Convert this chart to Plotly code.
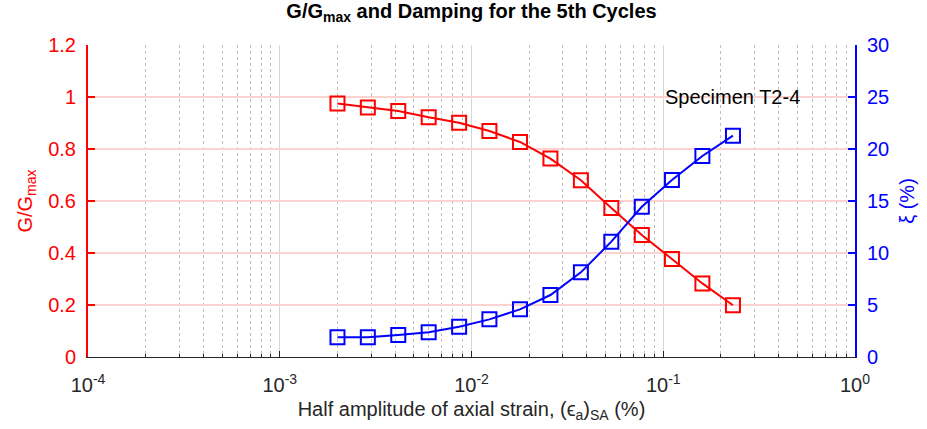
import plotly.graph_objects as go

# Half amplitude of axial strain (%) for each loading stage
strain = [0.00200, 0.00288, 0.00415, 0.00598, 0.00862, 0.0124, 0.0179,
          0.0258, 0.0372, 0.0536, 0.0773, 0.111, 0.160, 0.231]
# Normalised shear modulus G/Gmax
g_ratio = [0.975, 0.960, 0.946, 0.922, 0.901, 0.869, 0.827,
           0.763, 0.680, 0.573, 0.469, 0.377, 0.283, 0.199]
# Damping ratio xi (%)
damping = [1.89, 1.89, 2.12, 2.38, 2.91, 3.62, 4.58,
           5.96, 8.14, 11.09, 14.45, 17.02, 19.33, 21.28]

x_major = [1e-4, 1e-3, 1e-2, 1e-1, 1e0]
x_major_text = ["10<sup>-4</sup>", "10<sup>-3</sup>", "10<sup>-2</sup>",
                "10<sup>-1</sup>", "10<sup>0</sup>"]
x_minor = [m * d for d in (1e-4, 1e-3, 1e-2, 1e-1) for m in range(2, 10)]

RED = "rgb(255,0,0)"
BLUE = "rgb(0,0,255)"
TXT = "rgb(38,38,38)"
FONT = "Liberation Sans, Arial, sans-serif"
FS = 20

fig = go.Figure()
fig.add_trace(go.Scatter(
    x=strain, y=g_ratio, mode="lines+markers",
    line=dict(color=RED, width=2),
    marker=dict(symbol="square-open", size=14, color=RED, line=dict(width=2, color=RED)),
    yaxis="y", showlegend=False))
fig.add_trace(go.Scatter(
    x=strain, y=damping, mode="lines+markers",
    line=dict(color=BLUE, width=2),
    marker=dict(symbol="square-open", size=14, color=BLUE, line=dict(width=2, color=BLUE)),
    yaxis="y2", showlegend=False))

fig.update_layout(
    width=927, height=429,
    margin=dict(l=88, r=67, t=45, b=72),
    paper_bgcolor="white", plot_bgcolor="white",
    font=dict(family=FONT, size=FS, color=TXT),
    title=dict(text="<b>G/G<sub>max</sub> and Damping for the 5th Cycles</b>",
               x=0.5, xref="paper", xanchor="center", y=0.99, yanchor="top",
               font=dict(size=20, color="black")),
    xaxis=dict(
        type="log", range=[-4, 0],
        tickmode="array", tickvals=x_major, ticktext=x_major_text,
        ticks="inside", ticklen=6, tickcolor=TXT, tickwidth=1,
        ticklabelstandoff=10,
        showline=True, linecolor=TXT, linewidth=1, mirror=False,
        showgrid=True, gridcolor="rgb(215,215,215)", gridwidth=1,
        tickfont=dict(size=FS, color=TXT),
        minor=dict(tickmode="array", tickvals=x_minor, ticks="inside", ticklen=3,
                   tickcolor=TXT, showgrid=True, gridcolor="rgb(190,190,190)",
                   griddash="dot", gridwidth=1),
        title=dict(text="Half amplitude of axial strain, (\u03f5<sub>a</sub>)<sub>SA</sub> (%)",
                   font=dict(size=FS, color=TXT), standoff=6),
        zeroline=False,
    ),
    yaxis=dict(
        range=[0, 1.2], tickmode="array",
        tickvals=[0, 0.2, 0.4, 0.6, 0.8, 1.0, 1.2],
        ticktext=["0", "0.2", "0.4", "0.6", "0.8", "1", "1.2"],
        ticks="inside", ticklen=7, tickcolor=RED, tickwidth=2,
        ticklabelstandoff=6,
        showline=True, linecolor=RED, linewidth=2,
        showgrid=True, gridcolor="rgb(255,210,210)", gridwidth=2,
        tickfont=dict(size=FS, color=RED),
        title=dict(text="G/G<sub>max</sub>", font=dict(size=FS, color=RED), standoff=10),
        zeroline=False,
    ),
    yaxis2=dict(
        range=[0, 30], overlaying="y", side="right", tickmode="array",
        tickvals=[0, 5, 10, 15, 20, 25, 30],
        ticks="inside", ticklen=7, tickcolor=BLUE, tickwidth=2,
        ticklabelstandoff=6,
        showline=True, linecolor=BLUE, linewidth=2,
        showgrid=False,
        tickfont=dict(size=FS, color=BLUE),
        title=dict(text="\u03be (%)", font=dict(size=FS, color=BLUE), standoff=12),
        zeroline=False,
    ),
    annotations=[dict(text="Specimen T2-4", x=-1, y=1.0, xref="x", yref="y",
                      xanchor="left", yanchor="middle", showarrow=False,
                      font=dict(size=FS, color="black"))],
)

fig.write_html("out.html")
